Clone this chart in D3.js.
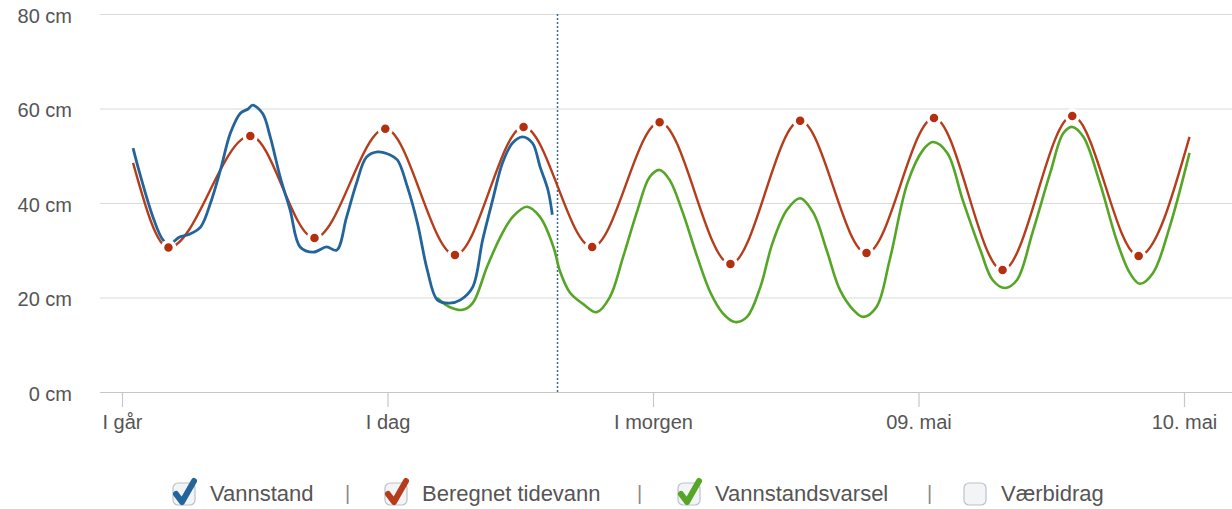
<!DOCTYPE html>
<html>
<head>
<meta charset="utf-8">
<script src="https://cdn.jsdelivr.net/npm/d3@7"></script>
<style>
  body { margin: 0; background: #fff; font-family: Arial, "Liberation Sans", sans-serif; }
  .axis text { fill: #555; font-size: 20px; font-family: Arial, "Liberation Sans", sans-serif; }
</style>
</head>
<body>
<svg id="chart"></svg>
<script>
// hours since "I går" 00:00, value in cm
var vannstand = [
  [1.0, 51.6], [1.6, 46.3], [2.8, 37.0], [3.7, 32.2], [4.3, 31.3], [5.2, 32.8],
  [6.1, 33.4], [7.1, 34.9], [8.0, 40.0], [8.9, 47.0], [9.8, 54.8], [10.7, 59.0],
  [11.4, 59.9], [11.8, 60.7], [12.7, 59.0], [13.4, 54.0], [14.3, 45.5], [15.2, 38.5],
  [16.1, 30.7], [17.3, 29.6], [18.5, 30.7], [19.4, 30.0], [20.3, 37.0], [21.2, 44.2],
  [22.1, 49.7], [23.1, 50.8], [24.2, 50.2], [24.9, 49.1], [25.8, 43.4], [26.7, 35.8],
  [27.6, 25.8], [28.5, 19.5], [29.6, 18.8], [30.6, 19.5], [31.7, 22.2], [32.6, 32.2],
  [33.5, 40.6], [34.4, 48.5], [35.3, 52.7], [36.2, 54.0], [37.1, 52.7], [37.8, 47.6],
  [38.5, 42.8], [38.9, 37.5]
];

var tidevann = [
  [1.0, 48.5], [4.2, 30.6], [11.6, 54.2], [17.4, 32.6], [23.8, 55.7], [30.1, 29.0],
  [36.3, 56.1], [42.5, 30.7], [48.6, 57.1], [55.0, 27.1], [61.3, 57.4], [67.3, 29.4],
  [73.4, 58.0], [79.6, 25.8], [85.9, 58.4], [91.9, 28.8], [96.5, 54.0]
];

var varsel = [
  [28.5, 19.9], [29.6, 18.0], [30.8, 17.4], [31.7, 18.8], [33.0, 26.5], [34.2, 32.8],
  [35.3, 37.0], [36.6, 39.2], [37.8, 37.0], [39.0, 30.7], [39.6, 25.5], [40.5, 21.0],
  [41.7, 18.6], [42.9, 16.9], [44.1, 20.1], [45.3, 28.6], [46.6, 38.5], [47.7, 45.5],
  [48.6, 47.0], [49.5, 44.9], [50.7, 37.9], [52.0, 28.6], [53.2, 21.0], [54.3, 16.7],
  [55.4, 14.8], [56.5, 15.9], [57.7, 22.2], [58.8, 31.5], [60.1, 38.5], [61.3, 41.0],
  [62.5, 37.9], [63.7, 30.0], [64.9, 21.6], [66.1, 17.4], [67.0, 15.9], [68.2, 18.0],
  [69.4, 28.0], [71.0, 44.2], [72.4, 51.2], [73.3, 52.9], [74.6, 50.6], [76.0, 40.6],
  [77.6, 30.0], [78.7, 23.7], [79.8, 22.0], [80.9, 23.7], [82.3, 33.7], [83.9, 46.3],
  [85.1, 54.8], [85.9, 56.1], [86.9, 54.0], [88.4, 44.2], [89.9, 32.2], [91.1, 25.2],
  [92.0, 22.9], [93.2, 25.2], [94.7, 34.9], [96.5, 50.6]
];

var naa = 39.3;
var dagTicks = [0, 24, 48, 72, 96];
var dagLabels = ['I går', 'I dag', 'I morgen', '09. mai', '10. mai'];
var cmTicks = [0, 20, 40, 60, 80];
var legendNames = ['Vannstand', 'Beregnet tidevann', 'Vannstandsvarsel', 'Værbidrag'];
var legendColors = ['#23649a', '#b53d1b', '#55a626', null];

var w = 1232, h = 509;
var svg = d3.select('#chart').attr('width', w).attr('height', h);

var x = d3.scaleLinear().domain([0, 96]).range([122, 1184]);
var y = d3.scaleLinear().domain([0, 80]).range([392, 14]);

// grid
svg.append('g')
  .selectAll('line')
  .data(cmTicks)
  .enter()
  .append('line')
  .attr('x1', 100)
  .attr('x2', w)
  .attr('y1', function(d) { return y(d) + 0.5; })
  .attr('y2', function(d) { return y(d) + 0.5; })
  .attr('stroke', function(d) { return d === 0 ? '#c4c8cc' : '#dadada'; })
  .attr('stroke-width', 1.2);

// y labels
var yAxis = d3.axisLeft(y)
  .tickValues(cmTicks)
  .tickSize(0)
  .tickPadding(0)
  .tickFormat(function(n) { return n + ' cm'; });
var gy = svg.append('g')
  .attr('class', 'axis')
  .attr('transform', 'translate(72,2)')
  .call(yAxis);
gy.select('.domain').remove();

// x axis
var xAxis = d3.axisBottom(x)
  .tickValues(dagTicks)
  .tickSize(15)
  .tickPadding(8)
  .tickFormat(function(d, i) { return dagLabels[i]; });
var gx = svg.append('g')
  .attr('class', 'axis')
  .attr('transform', 'translate(0,392)')
  .call(xAxis);
gx.select('.domain').remove();
gx.selectAll('.tick line').attr('stroke', '#c4c8cc').attr('stroke-width', 1.2);

// now-line
svg.append('line')
  .attr('x1', Math.round(x(naa)) + 0.5)
  .attr('x2', Math.round(x(naa)) + 0.5)
  .attr('y1', y(80))
  .attr('y2', y(0))
  .attr('stroke', '#3b6a8e')
  .attr('stroke-width', 1.5)
  .attr('stroke-dasharray', '2,2');

var line = d3.line()
  .x(function(d) { return x(d[0]); })
  .y(function(d) { return y(d[1]); });

svg.append('path')
  .datum(varsel)
  .attr('d', line.curve(d3.curveCatmullRom))
  .attr('fill', 'none')
  .attr('stroke', legendColors[2])
  .attr('stroke-width', 2.6);

svg.append('path')
  .datum(tidevann)
  .attr('d', line.curve(d3.curveMonotoneX))
  .attr('fill', 'none')
  .attr('stroke', legendColors[1])
  .attr('stroke-width', 2.4);

svg.append('path')
  .datum(vannstand)
  .attr('d', line.curve(d3.curveCatmullRom))
  .attr('fill', 'none')
  .attr('stroke', legendColors[0])
  .attr('stroke-width', 2.8);

svg.append('g')
  .selectAll('circle')
  .data(tidevann.slice(1, -1))
  .enter()
  .append('circle')
  .attr('cx', function(d) { return x(d[0]); })
  .attr('cy', function(d) { return y(d[1]); })
  .attr('r', 6)
  .attr('fill', '#b2300e')
  .attr('stroke', '#fff')
  .attr('stroke-width', 3.5);

// legend
var legendX = [172, 384, 677, 963];
var sepX = [345, 637, 927];
var lg = svg.append('g').attr('transform', 'translate(0,493)');

lg.selectAll('.sep')
  .data(sepX)
  .enter()
  .append('text')
  .attr('x', function(d) { return d; })
  .attr('y', 7)
  .attr('fill', '#888')
  .attr('font-size', 20)
  .text('|');

var item = lg.selectAll('.item')
  .data(legendNames)
  .enter()
  .append('g')
  .attr('transform', function(d, i) { return 'translate(' + legendX[i] + ',0)'; });

item.append('rect')
  .attr('x', 1)
  .attr('y', -10)
  .attr('width', 22)
  .attr('height', 22)
  .attr('rx', 5)
  .attr('fill', '#f2f4f6')
  .attr('stroke', '#b9c2cc')
  .attr('stroke-width', 1.2);

item.filter(function(d, i) { return legendColors[i]; })
  .append('path')
  .attr('d', 'M4,1 L10,9 L22,-12')
  .attr('fill', 'none')
  .attr('stroke', function(d) { return legendColors[legendNames.indexOf(d)]; })
  .attr('stroke-width', 6)
  .attr('stroke-linecap', 'round')
  .attr('stroke-linejoin', 'round');

item.append('text')
  .attr('x', 38)
  .attr('y', 8)
  .attr('fill', '#555')
  .attr('font-size', 22)
  .text(function(d) { return d; });
</script>
</body>
</html>
